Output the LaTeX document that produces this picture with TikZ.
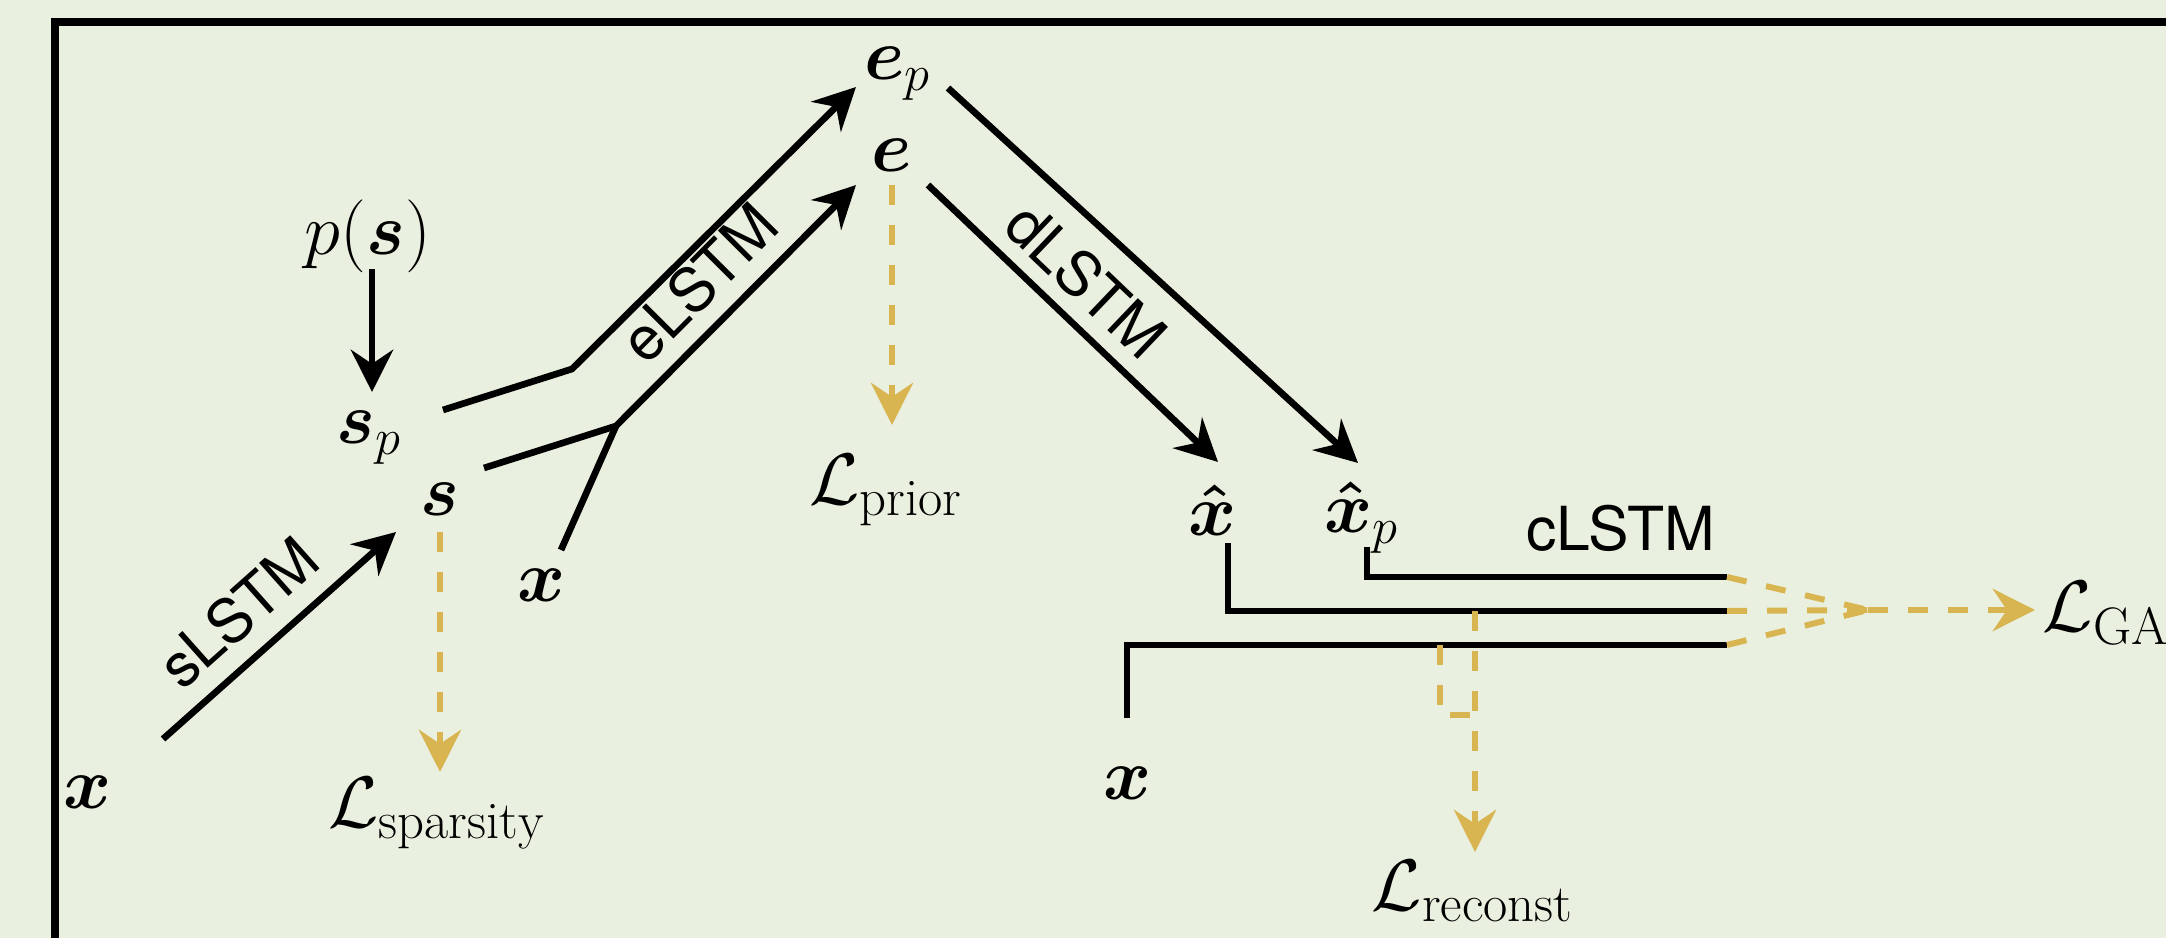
\documentclass[tikz,border=0pt]{standalone}
\usepackage{amsmath,amssymb}
\usepackage{fontspec}
\newfontfamily\lstmfont{TeX Gyre Heros}
\usepackage{tikz}
\usetikzlibrary{arrows.meta, positioning, calc}

\DeclareMathSizes{22}{22}{15}{11}
\definecolor{panelbg}{RGB}{234,240,223}
\definecolor{lossgold}{RGB}{217,181,82}

\tikzset{
  sym/.style={font=\fontsize{22}{26}\selectfont, inner sep=0pt},
  loss/.style={font=\fontsize{22}{26}\selectfont, inner sep=0pt},
  lstm/.style={font=\LARGE\lstmfont, inner sep=0pt},
  arrow/.style={-{Stealth[length=12pt,width=12pt,inset=4pt]}, line width=1.9pt, black},
  wire/.style={line width=1.9pt, black},
  lossline/.style={dash pattern=on 5.7pt off 5.7pt, line width=1.7pt, color=lossgold},
  lossarrow/.style={lossline, -{Stealth[length=12pt,width=12pt,inset=4pt]}},
  frame/.style={line width=2pt, black}
}

\begin{document}
\begin{tikzpicture}[x=0.1mm, y=-0.1mm]
  \path[use as bounding box, fill=panelbg] (0,0) rectangle (2166,938);
  \clip (0,0) rectangle (2166,938);
  \draw[frame] (55,22) rectangle (2400,1200);

  % variables
  \node[sym] (x1) at (88,792) {$\boldsymbol{x}$};
  \node[sym] (s) at (440,499) {$\boldsymbol{s}$};
  \node[sym] (sp) at (369,438) {$\boldsymbol{s}_p$};
  \node[sym] (ps) at (368,236) {$p(\boldsymbol{s})$};
  \node[sym] (x2) at (542,585) {$\boldsymbol{x}$};
  \node[sym] (ep) at (898,74) {$\boldsymbol{e}_p$};
  \node[sym] (e) at (892,155) {$\boldsymbol{e}$};
  \node[sym] (xh) at (1213,510) {$\boldsymbol{\hat{x}}$};
  \node[sym] (xhp) at (1362,518) {$\boldsymbol{\hat{x}}_p$};
  \node[sym] (x3) at (1128,783) {$\boldsymbol{x}$};

  % losses
  \node[loss] (lsp) at (437,813) {$\mathcal{L}_{\mathrm{sparsity}}$};
  \node[loss] (lpr) at (886,490) {$\mathcal{L}_{\mathrm{prior}}$};
  \node[loss] (lrec) at (1473,891) {$\mathcal{L}_{\mathrm{reconst}}$};
  \node[loss, anchor=base west] (lgan) at (2042,632) {$\mathcal{L}_{\mathrm{GAN}}$};

  \coordinate (k1) at (572,369);
  \coordinate (k2) at (616,426);
  \coordinate (g1) at (1727,577);
  \coordinate (g2) at (1727,611);
  \coordinate (g3) at (1727,645);
  \coordinate (m) at (1868,610);
  \coordinate (r1) at (1475,611);
  \coordinate (r2) at (1440,645);
  \coordinate (r3) at (1475,715);

  \draw[arrow] ($(x1)+(75,-53)$) -- node[lstm, sloped, above=1.8mm, pos=.45] {sLSTM} ($(s)+(-44,33)$);
  \draw[arrow] ($(ps)+(4,33)$) -- ($(sp)+(3,-46)$);
  \draw[arrow] ($(sp)+(74,-28)$) -- (k1) -- ($(ep)+(-42,13)$);
  \draw[arrow] ($(s)+(44,-31)$) -- (k2) -- node[lstm, sloped, above=1.6mm, pos=.47] {eLSTM} ($(e)+(-36,30)$);
  \draw[wire] ($(x2)+(19,-35)$) -- (k2);
  \draw[arrow] ($(ep)+(50,14)$) -- ($(xhp)+(-4,-55)$);
  \draw[arrow] ($(e)+(36,30)$) -- node[lstm, sloped, above=1.4mm, pos=.45] {dLSTM} ($(xh)+(5,-48)$);

  \draw[wire] ($(xhp)+(5,29)$) |- (g1);
  \draw[wire] ($(xh)+(15,33)$) |- (g2);
  \draw[wire] ($(x3)+(-1,-65)$) |- (g3);
  \node[lstm, anchor=south east] (clstm) at ($(g1)+(-11,-25)$) {cLSTM};

  \draw[lossarrow] ($(s)+(0,33)$) -- ($(lsp)+(3,-41)$);
  \draw[lossarrow] ($(e)+(0,30)$) -- ($(lpr)+(6,-65)$);
  \draw[lossline] (g1) -- (m);
  \draw[lossline] (g2) -- (m);
  \draw[lossline] (g3) -- (m);
  \draw[lossarrow] (m) -- ($(lgan.base west)+(-7,-22)$);
  \draw[lossarrow] (r1) -- ($(lrec)+(2,-39)$);
  \draw[lossline] (r2) |- (r3);
\end{tikzpicture}
\end{document}
